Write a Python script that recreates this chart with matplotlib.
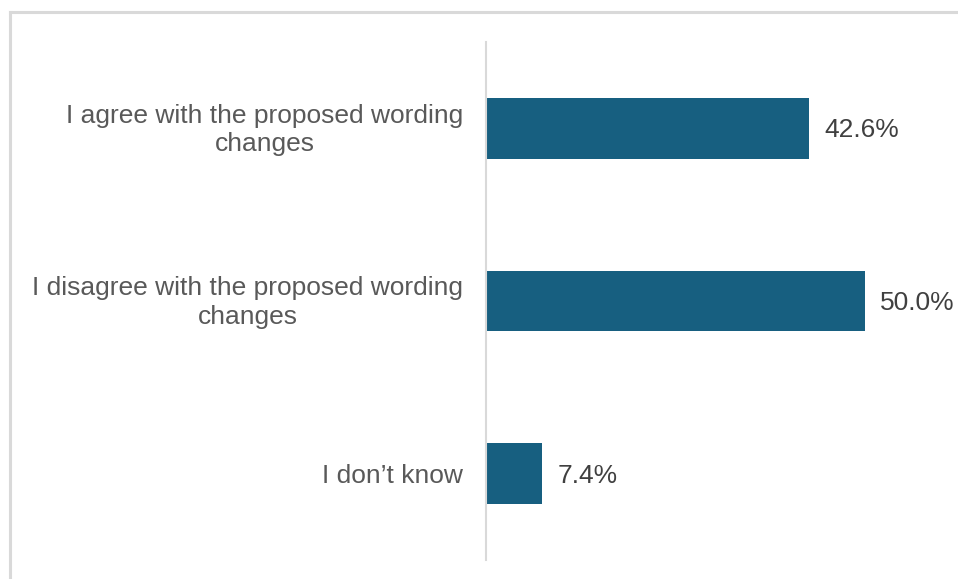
import matplotlib
matplotlib.use("Agg")
import matplotlib.pyplot as plt
from matplotlib.lines import Line2D
from matplotlib.transforms import ScaledTranslation

plt.rcParams['font.family'] = ['Liberation Sans', 'DejaVu Sans']

categories = ["I agree with the proposed wording\nchanges",
              "I disagree with the proposed wording\nchanges",
              "I don\u2019t know"]
values = [42.6, 50.0, 7.4]
value_labels = ["42.6%", "50.0%", "7.4%"]

fig = plt.figure(figsize=(9.58, 5.79), dpi=100)
W, H = 958, 579

# grey frame (top and left only)
fig.add_artist(Line2D([10 / W, 10 / W], [0, 1 - 12 / H], color="#d9d9d9", lw=2.2,
                      transform=fig.transFigure))
fig.add_artist(Line2D([10 / W, 1], [1 - 12 / H, 1 - 12 / H], color="#d9d9d9", lw=2.2,
                      transform=fig.transFigure))

ax = fig.add_axes([486 / W, 1 - 560 / H, 455 / W, 518 / H])
ypos = list(range(len(categories)))
ax.barh(ypos, values, height=0.35, color="#175f80")
ax.set_xlim(0, 60)
ax.set_ylim(2.5, -0.5)

for y, v, lab in zip(ypos, values, value_labels):
    ax.text(v + 2, y + 0.012, lab, va="center", ha="left", fontsize=19, color="#404040")

ax.set_yticks(ypos)
ax.set_yticklabels(categories, fontsize=19, color="#595959", linespacing=1.22)
ax.tick_params(axis="y", length=0, pad=16.5)
ax.set_xticks([])
for s in ["top", "right", "bottom"]:
    ax.spines[s].set_visible(False)
ax.spines["left"].set_color("#d9d9d9")
ax.spines["left"].set_linewidth(1.5)
for t in ax.get_yticklabels():
    t.set_horizontalalignment("right")
    t.set_multialignment("center")
    if "\n" in t.get_text():
        # nudge the two-line labels up a little
        t.set_transform(t.get_transform() + ScaledTranslation(0, 0.03, fig.dpi_scale_trans))

fig.savefig("out.png", dpi=100)
